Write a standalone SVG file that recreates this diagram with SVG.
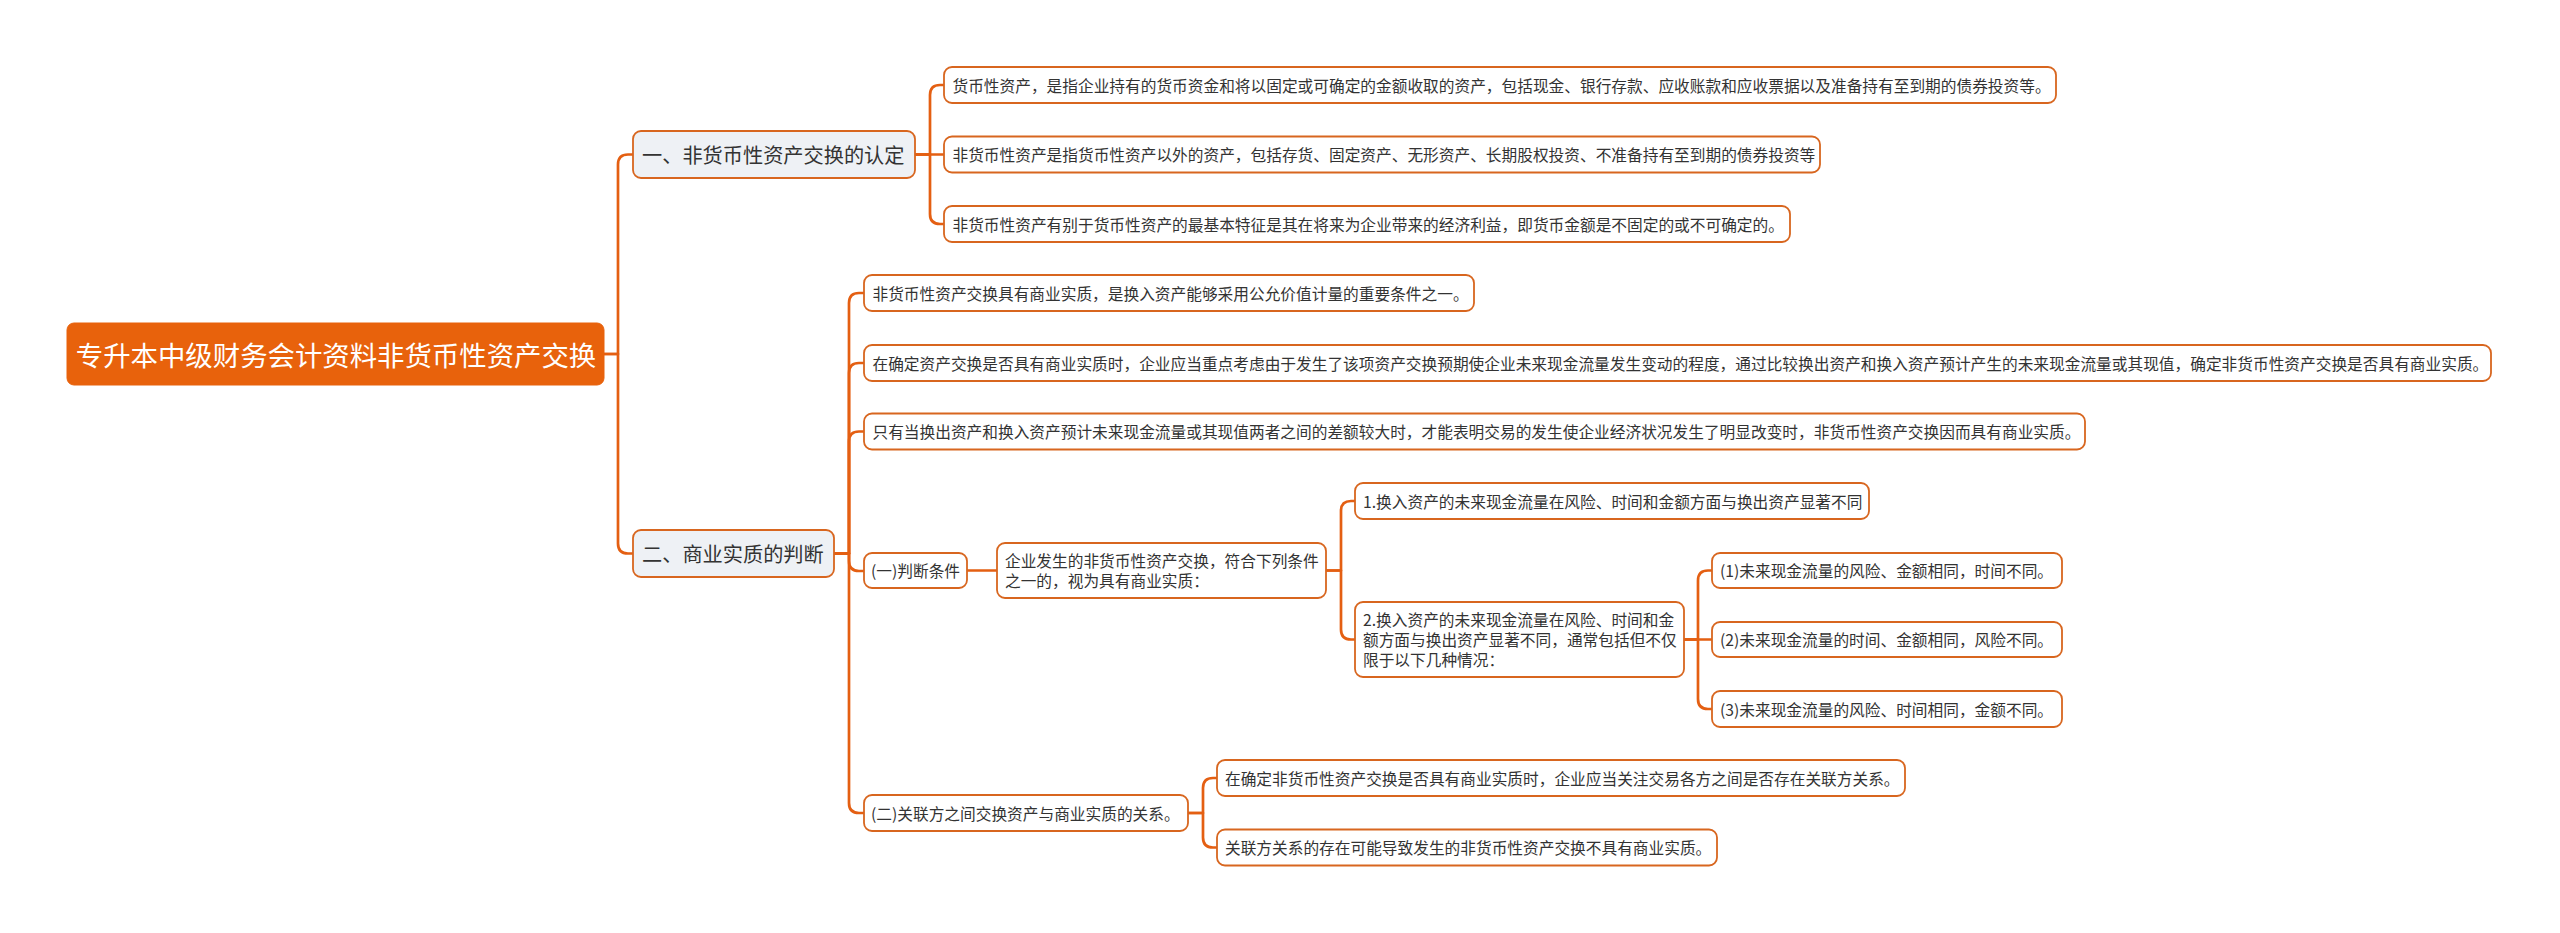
<svg xmlns="http://www.w3.org/2000/svg" width="2560" height="933" viewBox="0 0 2560 933">
<style>
text{font-family:"Noto Sans CJK SC","Microsoft YaHei",sans-serif;fill:#333;dominant-baseline:central}
.root rect{fill:#E8620C;stroke:#E8620C}
.root text{fill:#fff;font-size:27.4px;text-anchor:middle}
.l1 rect{fill:#EEF1F5;stroke:#D8661F;stroke-width:1.8}
.l1 text{font-size:20.2px}
.lf rect{fill:#fff;stroke:#D8661F;stroke-width:1.8}
.lf text{font-size:15.7px}
.conn path{fill:none;stroke:#E45F12;stroke-width:2.7;stroke-linecap:round;stroke-linejoin:round}
</style>
<rect width="2560" height="933" fill="#fff"/>
<g class="conn" id="connectors">
<path d="M604,354 H618 V164.5 Q618,154.5 628,154.5 H633"/>
<path d="M604,354 H618 V543.5 Q618,553.5 628,553.5 H633"/>
<path d="M915,154.5 H930 V95 Q930,85 940,85 H944"/>
<path d="M915,154.5 H944"/>
<path d="M915,154.5 H930 V214 Q930,224 940,224 H944"/>
<path d="M834,553.5 H849 V303 Q849,293 859,293 H864"/>
<path d="M834,553.5 H849 V373 Q849,363 859,363 H864"/>
<path d="M834,553.5 H849 V441.5 Q849,431.5 859,431.5 H864"/>
<path d="M834,553.5 H849 V561 Q849,571 859,571 H864"/>
<path d="M834,553.5 H849 V803 Q849,813 859,813 H864"/>
<path d="M967,570.5 H997"/>
<path d="M1326,570.5 H1341 V511 Q1341,501 1351,501 H1355"/>
<path d="M1326,570.5 H1341 V629.5 Q1341,639.5 1351,639.5 H1355"/>
<path d="M1684,639.5 H1698 V580.5 Q1698,570.5 1708,570.5 H1712"/>
<path d="M1684,639.5 H1712"/>
<path d="M1684,639.5 H1698 V699 Q1698,709 1708,709 H1712"/>
<path d="M1188,813 H1203 V788 Q1203,778 1213,778 H1217"/>
<path d="M1188,813 H1203 V837.5 Q1203,847.5 1213,847.5 H1217"/>
</g>
<g id="root" class="root"><rect x="67" y="323" width="537" height="62" rx="7"/><text x="336" y="354">专升本中级财务会计资料非货币性资产交换</text></g>
<g id="n1" class="l1"><rect x="633" y="131" width="282" height="47" rx="8"/><text x="642" y="154.5">一、非货币性资产交换的认定</text></g>
<g id="n2" class="l1"><rect x="633" y="530" width="201" height="47" rx="8"/><text x="642" y="553.5">二、商业实质的判断</text></g>
<g id="a1" class="lf"><rect x="944" y="67" width="1112" height="36" rx="8"/><text x="952.5" y="85">货币性资产，是指企业持有的货币资金和将以固定或可确定的金额收取的资产，包括现金、银行存款、应收账款和应收票据以及准备持有至到期的债券投资等。</text></g>
<g id="a2" class="lf"><rect x="944" y="136.5" width="876" height="36" rx="8"/><text x="952.5" y="154.5">非货币性资产是指货币性资产以外的资产，包括存货、固定资产、无形资产、长期股权投资、不准备持有至到期的债券投资等</text></g>
<g id="a3" class="lf"><rect x="944" y="206" width="846" height="36" rx="8"/><text x="952.5" y="224">非货币性资产有别于货币性资产的最基本特征是其在将来为企业带来的经济利益，即货币金额是不固定的或不可确定的。</text></g>
<g id="b1" class="lf"><rect x="864" y="275" width="610" height="36" rx="8"/><text x="872.5" y="293">非货币性资产交换具有商业实质，是换入资产能够采用公允价值计量的重要条件之一。</text></g>
<g id="b2" class="lf"><rect x="864" y="345" width="1627" height="36" rx="8"/><text x="872.5" y="363">在确定资产交换是否具有商业实质时，企业应当重点考虑由于发生了该项资产交换预期使企业未来现金流量发生变动的程度，通过比较换出资产和换入资产预计产生的未来现金流量或其现值，确定非货币性资产交换是否具有商业实质。</text></g>
<g id="b3" class="lf"><rect x="864" y="413.5" width="1221" height="36" rx="8"/><text x="872.5" y="431.5">只有当换出资产和换入资产预计未来现金流量或其现值两者之间的差额较大时，才能表明交易的发生使企业经济状况发生了明显改变时，非货币性资产交换因而具有商业实质。</text></g>
<g id="b4" class="lf"><rect x="864" y="553" width="103" height="35" rx="8"/><text x="871" y="570.5">(一)判断条件</text></g>
<g id="d1" class="lf"><rect x="997" y="543" width="329" height="55" rx="8"/><text x="1005" y="560.5">企业发生的非货币性资产交换，符合下列条件</text><text x="1005" y="580.5">之一的，视为具有商业实质：</text></g>
<g id="e1" class="lf"><rect x="1355" y="483" width="514" height="36" rx="8"/><text x="1363" y="501">1.换入资产的未来现金流量在风险、时间和金额方面与换出资产显著不同</text></g>
<g id="e2" class="lf"><rect x="1355" y="602" width="329" height="75" rx="8"/><text x="1363" y="619.5">2.换入资产的未来现金流量在风险、时间和金</text><text x="1363" y="639.5">额方面与换出资产显著不同，通常包括但不仅</text><text x="1363" y="659.5">限于以下几种情况：</text></g>
<g id="f1" class="lf"><rect x="1712" y="553" width="350" height="35" rx="8"/><text x="1720" y="570.5">(1)未来现金流量的风险、金额相同，时间不同。</text></g>
<g id="f2" class="lf"><rect x="1712" y="622" width="350" height="35" rx="8"/><text x="1720" y="639.5">(2)未来现金流量的时间、金额相同，风险不同。</text></g>
<g id="f3" class="lf"><rect x="1712" y="691" width="350" height="36" rx="8"/><text x="1720" y="709">(3)未来现金流量的风险、时间相同，金额不同。</text></g>
<g id="b5" class="lf"><rect x="864" y="795" width="324" height="36" rx="8"/><text x="871" y="813">(二)关联方之间交换资产与商业实质的关系。</text></g>
<g id="g1" class="lf"><rect x="1217" y="760" width="688" height="36" rx="8"/><text x="1225" y="778">在确定非货币性资产交换是否具有商业实质时，企业应当关注交易各方之间是否存在关联方关系。</text></g>
<g id="g2" class="lf"><rect x="1217" y="829.5" width="500" height="36" rx="8"/><text x="1225" y="847.5">关联方关系的存在可能导致发生的非货币性资产交换不具有商业实质。</text></g>
</svg>
